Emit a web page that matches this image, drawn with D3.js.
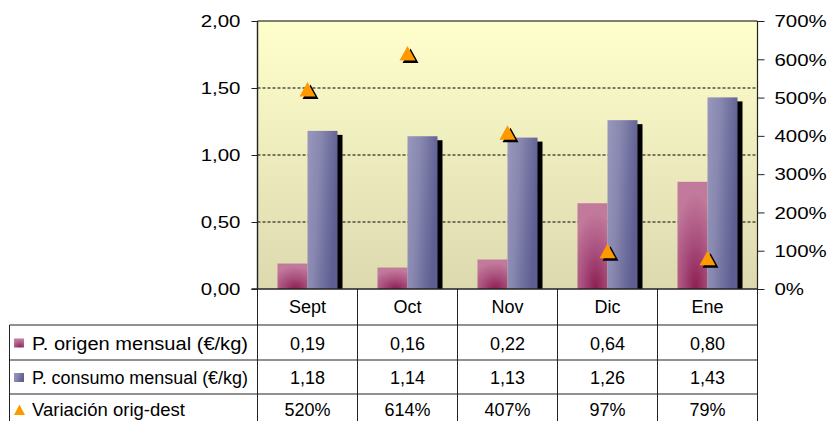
<!DOCTYPE html>
<html>
<head>
<meta charset="utf-8">
<script src="https://cdn.jsdelivr.net/npm/d3@7"></script>
<style>
    body { margin: 0; background: #fff; }
    svg text { font-family: "Liberation Sans", Arial, sans-serif; fill: #000; }
</style>
</head>
<body>
<div id="chart"></div>
<script>
// chart values
const months = ["Sept", "Oct", "Nov", "Dic", "Ene"];
const origen = [0.19, 0.16, 0.22, 0.64, 0.80];
const consumo = [1.18, 1.14, 1.13, 1.26, 1.43];
const variacion = [5.20, 6.14, 4.07, 0.97, 0.79];
const leftTicks = [0, 0.5, 1, 1.5, 2];
const rightTicks = [0, 1, 2, 3, 4, 5, 6, 7];
const seriesNames = ["P. origen mensual (\u20ac/kg)", "P. consumo mensual (\u20ac/kg)", "Variación orig-dest"];

const W = 829, H = 421;
const plot = { left: 257.5, right: 757.5, top: 21, bottom: 289 };
const rowLines = [325, 360, 394, 429];
const tableLeft = 9.5;
const labelWidths = [216, 216, 153];

const fmt2 = v => v.toFixed(2).replace(".", ",");
const fmtPct = v => Math.round(v * 100) + "%";

const svg = d3.select("#chart").append("svg")
    .attr("width", W)
    .attr("height", H);

const defs = svg.append("defs");

let bg = defs.append("linearGradient").attr("id", "bg")
    .attr("x1", 0).attr("y1", 0).attr("x2", 0).attr("y2", 1);
bg.append("stop").attr("offset", 0).attr("stop-color", "#ffffcc");
bg.append("stop").attr("offset", 1).attr("stop-color", "#dcd9af");

let pink = defs.append("radialGradient").attr("id", "pink")
    .attr("cx", 0.6).attr("cy", 1).attr("r", 0.9);
pink.append("stop").attr("offset", 0).attr("stop-color", "#8c1f52");
pink.append("stop").attr("offset", 0.5).attr("stop-color", "#a9507e");
pink.append("stop").attr("offset", 1).attr("stop-color", "#c27a9c");

let blue = defs.append("linearGradient").attr("id", "blue")
    .attr("x1", 0).attr("y1", 0).attr("x2", 1).attr("y2", 0.3);
blue.append("stop").attr("offset", 0).attr("stop-color", "#9898bd");
blue.append("stop").attr("offset", 0.4).attr("stop-color", "#8888b0");
blue.append("stop").attr("offset", 1).attr("stop-color", "#5e5e92");

// scales
const x = d3.scaleBand().domain(months).range([plot.left, plot.right]).padding(0);
const y = d3.scaleLinear().domain([0, 2]).range([plot.bottom, plot.top]);
const y2 = d3.scaleLinear().domain([0, 7]).range([plot.bottom, plot.top]);
const bw = x.bandwidth();

// plot background
svg.append("rect")
    .attr("x", plot.left).attr("y", plot.top)
    .attr("width", plot.right - plot.left).attr("height", plot.bottom - plot.top)
    .attr("fill", "url(#bg)");

// gridlines
svg.append("g").selectAll("line")
    .data(leftTicks.filter(d => d > 0 && d < 2))
    .enter().append("line")
    .attr("x1", plot.left).attr("x2", plot.right)
    .attr("y1", d => y(d)).attr("y2", d => y(d))
    .attr("stroke", "#000").attr("stroke-dasharray", "3,2");

svg.append("line")
    .attr("x1", plot.left).attr("x2", plot.right)
    .attr("y1", plot.top).attr("y2", plot.top)
    .attr("stroke", "#000").attr("stroke-width", 1.2);

// bars
const bars = svg.append("g");

bars.selectAll(".shadow")
    .data(consumo)
    .enter().append("rect")
    .attr("class", "shadow")
    .attr("x", (d, i) => x(months[i]) + bw * 0.5 + 5)
    .attr("y", d => y(d) + 4)
    .attr("width", bw * 0.3)
    .attr("height", d => plot.bottom - y(d) - 4)
    .attr("fill", "#000");

bars.selectAll(".origen")
    .data(origen)
    .enter().append("rect")
    .attr("class", "origen")
    .attr("x", (d, i) => x(months[i]) + bw * 0.2)
    .attr("y", d => y(d))
    .attr("width", bw * 0.3)
    .attr("height", d => plot.bottom - y(d))
    .attr("fill", "url(#pink)");

bars.selectAll(".consumo")
    .data(consumo)
    .enter().append("rect")
    .attr("class", "consumo")
    .attr("x", (d, i) => x(months[i]) + bw * 0.5)
    .attr("y", d => y(d))
    .attr("width", bw * 0.3)
    .attr("height", d => plot.bottom - y(d))
    .attr("fill", "url(#blue)");

// triangles
const tri = "M0,-8L8,6.5L-8,6.5Z";
const marks = svg.append("g");
marks.selectAll(".tshadow")
    .data(variacion)
    .enter().append("path")
    .attr("d", tri)
    .attr("transform", (d, i) => `translate(${x(months[i]) + bw / 2 + 3},${y2(d) + 2.5})`)
    .attr("fill", "#000");
marks.selectAll(".tri")
    .data(variacion)
    .enter().append("path")
    .attr("d", tri)
    .attr("transform", (d, i) => `translate(${x(months[i]) + bw / 2},${y2(d)})`)
    .attr("fill", "#ff9900");

// axes
const stretch = 1.24;

const yAxis = d3.axisLeft(y).tickValues(leftTicks).tickSize(6).tickFormat(fmt2);
const gy = svg.append("g").attr("transform", `translate(${plot.left},0)`).call(yAxis);
gy.select(".domain").attr("d", `M0,${plot.top}V${plot.bottom}`).attr("stroke", "#222").attr("stroke-width", 1.4);
gy.selectAll(".tick line").attr("stroke", "#222");
gy.selectAll(".tick text")
    .attr("x", null).attr("dy", null)
    .attr("font-size", 16.5)
    .attr("dominant-baseline", "central")
    .attr("text-anchor", "end")
    .attr("transform", `translate(-17,0) scale(${stretch},1)`);

const y2Axis = d3.axisRight(y2).tickValues(rightTicks).tickSize(7).tickFormat(fmtPct);
const gy2 = svg.append("g").attr("transform", `translate(${plot.right},0)`).call(y2Axis);
gy2.select(".domain").attr("d", `M0,${plot.top}V${plot.bottom}`).attr("stroke", "#222").attr("stroke-width", 1.2);
gy2.selectAll(".tick line").attr("stroke", "#222");
gy2.selectAll(".tick text")
    .attr("x", null).attr("dy", null)
    .attr("font-size", 16.5)
    .attr("dominant-baseline", "central")
    .attr("text-anchor", "start")
    .attr("transform", `translate(17,0) scale(${stretch},1)`);

// x axis line
svg.append("line")
    .attr("x1", plot.left - 6).attr("x2", plot.right)
    .attr("y1", plot.bottom).attr("y2", plot.bottom)
    .attr("stroke", "#222").attr("stroke-width", 1.4);

// data table
const table = svg.append("g").attr("stroke", "#222").attr("stroke-width", 1);

table.selectAll(".vline")
    .data(months.concat(["end"]))
    .enter().append("line")
    .attr("x1", (d, i) => i < months.length ? x(d) : plot.right)
    .attr("x2", (d, i) => i < months.length ? x(d) : plot.right)
    .attr("y1", plot.bottom).attr("y2", H);

table.append("line")
    .attr("x1", tableLeft).attr("x2", tableLeft)
    .attr("y1", rowLines[0]).attr("y2", H);

table.selectAll(".hline")
    .data(rowLines.slice(0, 3))
    .enter().append("line")
    .attr("x1", tableLeft).attr("x2", plot.right)
    .attr("y1", d => d).attr("y2", d => d);

const tfont = 18;
svg.append("g").selectAll("text")
    .data(months)
    .enter().append("text")
    .attr("x", d => x(d) + bw / 2)
    .attr("y", (plot.bottom + rowLines[0]) / 2)
    .attr("text-anchor", "middle")
    .attr("dominant-baseline", "central")
    .attr("font-size", tfont)
    .text(d => d);

const rows = [origen.map(fmt2), consumo.map(fmt2), variacion.map(fmtPct)];
rows.forEach((vals, r) => {
    let cy = (rowLines[r] + rowLines[r + 1]) / 2 + 1;
    if (r === 2) cy = 410;
    svg.append("g").selectAll("text")
        .data(vals)
        .enter().append("text")
        .attr("x", (d, i) => x(months[i]) + bw / 2)
        .attr("y", cy)
        .attr("text-anchor", "middle")
        .attr("dominant-baseline", "central")
        .attr("font-size", tfont)
        .text(d => d);

    svg.append("text")
        .attr("x", 32)
        .attr("y", cy)
        .attr("dominant-baseline", "central")
        .attr("font-size", tfont)
        .attr("textLength", labelWidths[r])
        .attr("lengthAdjust", "spacingAndGlyphs")
        .text(seriesNames[r]);

    if (r < 2) {
        svg.append("rect")
            .attr("x", 14).attr("y", cy - 5)
            .attr("width", 10).attr("height", 9)
            .attr("fill", r === 0 ? "url(#pink)" : "url(#blue)");
    } else {
        svg.append("path")
            .attr("d", "M0,-5.5L5.5,5L-5.5,5Z")
            .attr("transform", `translate(19.5,${cy})`)
            .attr("fill", "#ff9900");
    }
});
</script>
</body>
</html>
